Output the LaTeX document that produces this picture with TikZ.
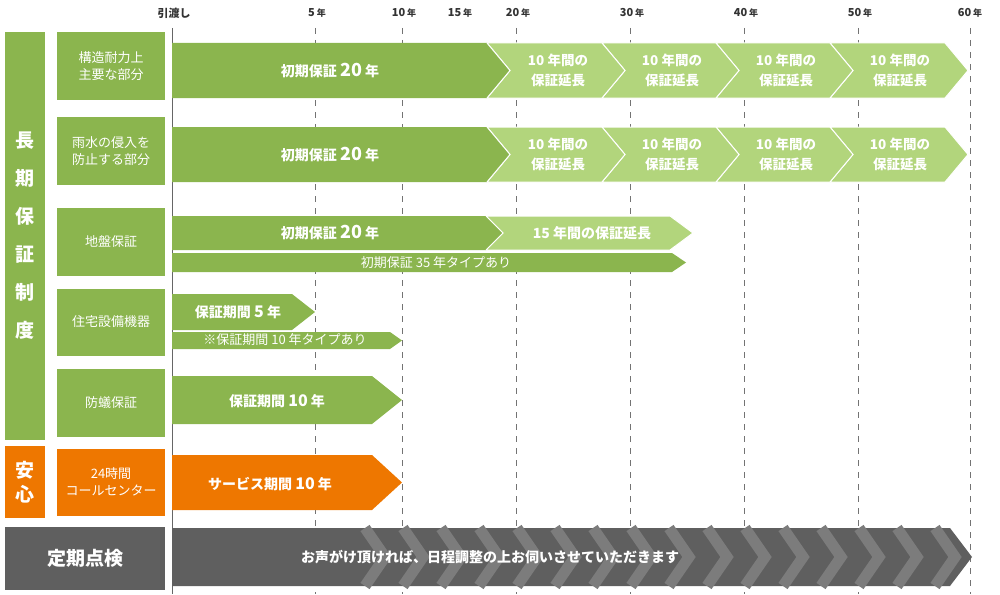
\documentclass[tikz,border=0pt]{standalone}
\usepackage{fontspec}
\setmainfont{Noto Sans CJK JP}
\usetikzlibrary{positioning}
\definecolor{dgreen}{HTML}{8BB54E}
\definecolor{lgreen}{HTML}{B2D57C}
\definecolor{orng}{HTML}{EE7700}
\definecolor{dgray}{HTML}{5F5F5F}
\definecolor{lgray}{HTML}{7C7C7C}
\tikzset{
  cat/.style={fill=dgreen, text=white, font=\fontsize{13}{17}\selectfont, align=center},
  lbl/.style={text=white, font=\fontsize{14}{18}\selectfont\bfseries, align=center},
  yr/.style={font=\fontsize{11}{13}\selectfont\bfseries, text=black!80},
  grid/.style={dashed, dash pattern=on 6pt off 6pt, black!55, thin}
}
% arrow band: x0, x1 (body end), top, bottom, colour, notch depth at start
\newcommand{\band}[6]{%
  \fill[#5, draw=white, line width=1pt] (#1,#3) -- (#2,#3) -- ({#2+23},{(#3+#4)/2}) -- (#2,#4) -- (#1,#4) -- ({#1+#6},{(#3+#4)/2}) -- cycle;}
\newcommand{\sband}[6]{%
  \fill[#5] (#1,#3) -- (#2,#3) -- ({#2+#6},{(#3+#4)/2}) -- (#2,#4) -- (#1,#4) -- cycle;}
\begin{document}
\begin{tikzpicture}[x=1pt, y=-1pt]
\useasboundingbox (0,0) rectangle (1000,594);

% axis
\draw[black!60] (172,28) -- (172,594);
\foreach \x in {315,402,516,630,744,858,970}
  \draw[grid] (\x,28) -- (\x,594);
\node[yr] (t0) at (174,13) {引渡し};
\foreach \x/\t [count=\i] in {317/5,404/10,460/15,518/20,632/30,746/40,860/50,970/60}
  \node[yr] (t\i) at (\x,13) {\t\,{\fontsize{9}{11}\selectfont 年}};

% left column
\node[cat, minimum width=40pt, minimum height=408pt, font=\fontsize{19}{38}\selectfont\bfseries] (long) at (25,236) {長\\期\\保\\証\\制\\度};
\node[cat, fill=orng, minimum width=40pt, minimum height=72pt, font=\fontsize{19}{24}\selectfont\bfseries] (anshin) at (25,482) {安\\心};
\node[cat, fill=dgray, minimum width=160pt, minimum height=63pt, font=\fontsize{19}{24}\selectfont\bfseries] (teiki) at (85,558) {定期点検};

\node[cat, minimum width=108pt, minimum height=68pt] (c1) at (111,66) {構造耐力上\\主要な部分};
\node[cat, minimum width=108pt, minimum height=68pt] (c2) at (111,151) {雨水の侵入を\\防止する部分};
\node[cat, minimum width=108pt, minimum height=68pt] (c3) at (111,242) {地盤保証};
\node[cat, minimum width=108pt, minimum height=67pt] (c4) at (111,322) {住宅設備機器};
\node[cat, minimum width=108pt, minimum height=68pt] (c5) at (111,403) {防蟻保証};
\node[cat, fill=orng, minimum width=108pt, minimum height=67pt] (c6) at (111,482) {24時間\\コールセンター};

% rows 1 and 2
\foreach \yt/\yb/\r in {43/98/a,127/182/b}{
  \band{830}{945}{\yt}{\yb}{lgreen}{23}
  \band{716}{830}{\yt}{\yb}{lgreen}{23}
  \band{602}{716}{\yt}{\yb}{lgreen}{23}
  \band{487}{602}{\yt}{\yb}{lgreen}{23}
  \sband{172}{487}{\yt}{\yb}{dgreen}{23}
  \draw[white, line width=1pt] (487,\yt) -- (510,{(\yt+\yb)/2}) -- (487,\yb);
  \node[lbl] (\r0) at (330,{(\yt+\yb)/2}) {初期保証 {\fontsize{18}{20}\selectfont 20} 年};
  \foreach \x [count=\i] in {558,672,786,900}
    \node[lbl, font=\fontsize{13.5}{20}\selectfont\bfseries] (\r\i) at (\x,{(\yt+\yb)/2}) {10 年間の\\保証延長};
}

% row 3
\band{486}{670}{216}{250}{lgreen}{17}
\sband{172}{486}{216}{250}{dgreen}{17}
\draw[white, line width=1pt] (486,216) -- (503,233) -- (486,250);
\sband{172}{672}{253}{272}{dgreen}{14}
\node[lbl] (g1) at (330,233) {初期保証 {\fontsize{18}{20}\selectfont 20} 年};
\node[lbl] (g2) at (592,233) {15 年間の保証延長};
\node[lbl, font=\fontsize{13}{15}\selectfont] (g3) at (436,263) {初期保証 35 年タイプあり};

% row 4
\sband{172}{292}{294}{330}{dgreen}{23}
\sband{172}{390}{332}{349}{dgreen}{12}
\node[lbl] (s1) at (238,312) {保証期間 {\fontsize{16}{18}\selectfont 5} 年};
\node[lbl, font=\fontsize{13}{15}\selectfont] (s2) at (285,340) {※保証期間 10 年タイプあり};

% row 5 and 6
\sband{172}{372}{376}{424}{dgreen}{30}
\node[lbl] (b1) at (277,401) {保証期間 {\fontsize{16}{18}\selectfont 10} 年};
\sband{172}{372}{455}{510}{orng}{30}
\node[lbl] (o1) at (270,484) {サービス期間 {\fontsize{16}{18}\selectfont 10} 年};

% inspection
\sband{172}{950}{528}{586}{dgray}{22}
\foreach \x in {365,403,...,935}
  \draw[lgray, line width=11pt] (\x,528) -- (\x+20,557) -- (\x,586);
\node[lbl, font=\fontsize{14}{18}\selectfont\bfseries] (k1) at (490,557) {お声がけ頂ければ、日程調整の上お伺いさせていただきます};
\end{tikzpicture}
\end{document}
